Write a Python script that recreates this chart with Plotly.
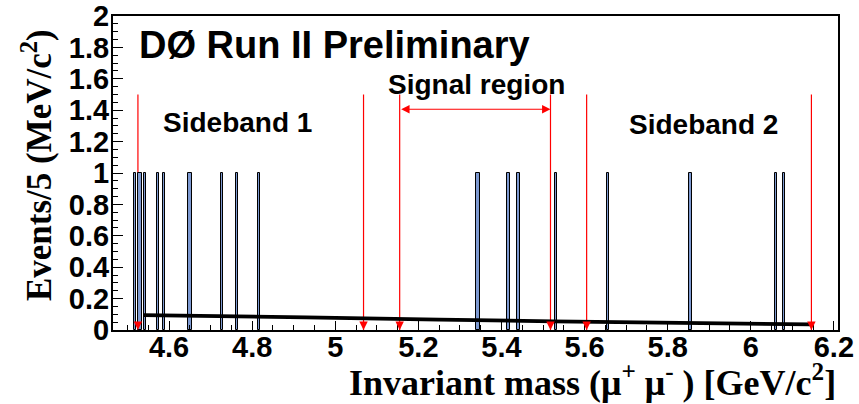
import plotly.graph_objects as go

# ---------------- data ----------------
bin_width = 0.005  # GeV (5 MeV bins)
event_bin_centers = [4.518, 4.5275, 4.5325, 4.542, 4.5725, 4.588, 4.6482, 4.6532,
                     4.727, 4.763, 4.8175, 5.3415, 5.3465, 5.417, 5.441, 5.531,
                     5.656, 5.855, 6.060, 6.080]
event_bin_counts = [1] * len(event_bin_centers)

fit_x = [4.538, 4.93, 5.25, 5.73, 6.145]
fit_y = [0.095, 0.080, 0.066, 0.048, 0.036]

sideband1_edges = [4.525, 5.068]
signal_edges = [5.155, 5.518]
sideband2_edges = [5.605, 6.146]
cut_line_top = 1.5
signal_arrow_y = 1.406

x_range = [4.465, 6.21]
y_range = [0, 2]

# ---------------- merge adjacent filled bins (ROOT draws a contour) ----------------
bars_x, bars_w, bars_h = [], [], []
grp = [event_bin_centers[0]]
grp_h = [event_bin_counts[0]]
for c, h in zip(event_bin_centers[1:], event_bin_counts[1:]):
    if c - grp[-1] < 1.5 * bin_width and h == grp_h[-1]:
        grp.append(c); grp_h.append(h)
    else:
        bars_x.append((grp[0] + grp[-1]) / 2); bars_w.append(bin_width * len(grp)); bars_h.append(grp_h[0])
        grp = [c]; grp_h = [h]
bars_x.append((grp[0] + grp[-1]) / 2); bars_w.append(bin_width * len(grp)); bars_h.append(grp_h[0])

fig = go.Figure()
fig.add_trace(go.Bar(x=bars_x, y=bars_h, width=bars_w,
                     marker=dict(color="#7d99d1", line=dict(color="black", width=1)),
                     hoverinfo="skip"))
fig.add_trace(go.Scatter(x=fit_x, y=fit_y, mode="lines",
                         line=dict(color="black", width=3.8, shape="spline"),
                         hoverinfo="skip"))

RED = "#ff0000"
shapes = []
annotations = []
for xv in sideband1_edges + signal_edges + sideband2_edges:
    shapes.append(dict(type="line", xref="x", yref="y", x0=xv, x1=xv, y0=0, y1=cut_line_top,
                       line=dict(color=RED, width=1.2), layer="below"))
    annotations.append(dict(x=xv, y=0, ax=xv, ay=0.05, xref="x", yref="y", axref="x", ayref="y",
                            text="", showarrow=True, arrowhead=2, arrowsize=1.4,
                            arrowwidth=1.2, arrowcolor=RED))

annotations.append(dict(x=signal_edges[1], y=signal_arrow_y, ax=signal_edges[0], ay=signal_arrow_y,
                        xref="x", yref="y", axref="x", ayref="y", text="", showarrow=True,
                        arrowhead=2, arrowside="end+start", arrowsize=1.4, arrowwidth=1.2,
                        arrowcolor=RED))

SANS = "Liberation Sans"
SERIF = "Liberation Serif"

def lbl(text, x, y, size, xanchor="center"):
    return dict(text="<b>%s</b>" % text, x=x, y=y, xref="paper", yref="paper",
                xanchor=xanchor, yanchor="middle", showarrow=False,
                font=dict(family=SANS, size=size, color="black"))

annotations += [
    lbl("DØ Run II Preliminary", 0.033, 0.9076, 38, "left"),
    lbl("Sideband 1", 0.1724, 0.6624, 28),
    lbl("Sideband 2", 0.8138, 0.656, 28),
    lbl("Signal region", 0.5007, 0.7834, 28),
    dict(text="<b>Invariant mass (μ<sup>+</sup> μ<sup>-</sup> ) [GeV/c<sup>2</sup>]</b>",
         x=1.0, y=-0.162, xref="paper", yref="paper", xanchor="right", yanchor="middle",
         showarrow=False, font=dict(family=SERIF, size=36, color="black")),
    dict(text="<b>Events/5 (MeV/c<sup>2</sup>)</b>", textangle=-90,
         x=-0.105, y=0.525, xref="paper", yref="paper", xanchor="center", yanchor="middle",
         showarrow=False, font=dict(family=SERIF, size=35, color="black")),
]

axis_common = dict(showgrid=False, zeroline=False, showline=True, linecolor="black",
                   linewidth=2, mirror=True, ticks="inside", tickcolor="black",
                   tickwidth=1, automargin=False,
                   tickfont=dict(family=SANS, size=29, color="black", weight="bold"))

fig.update_layout(
    width=859, height=404,
    margin=dict(l=113, r=21, t=16, b=74),
    paper_bgcolor="white", plot_bgcolor="white",
    showlegend=False, bargap=0,
    shapes=shapes, annotations=annotations,
    xaxis=dict(range=x_range, dtick=0.2, tick0=0, ticklen=9, ticklabelstandoff=-10,
               minor=dict(dtick=0.05, ticklen=5, ticks="inside", tickcolor="black"),
               **axis_common),
    yaxis=dict(range=y_range, dtick=0.2, tick0=0, ticklen=10, ticklabelstandoff=-4,
               minor=dict(dtick=0.05, ticklen=5, ticks="inside", tickcolor="black"),
               **axis_common),
)

fig.write_html("out.html", config={"displayModeBar": False},
               post_script="document.body.style.margin='0';")
